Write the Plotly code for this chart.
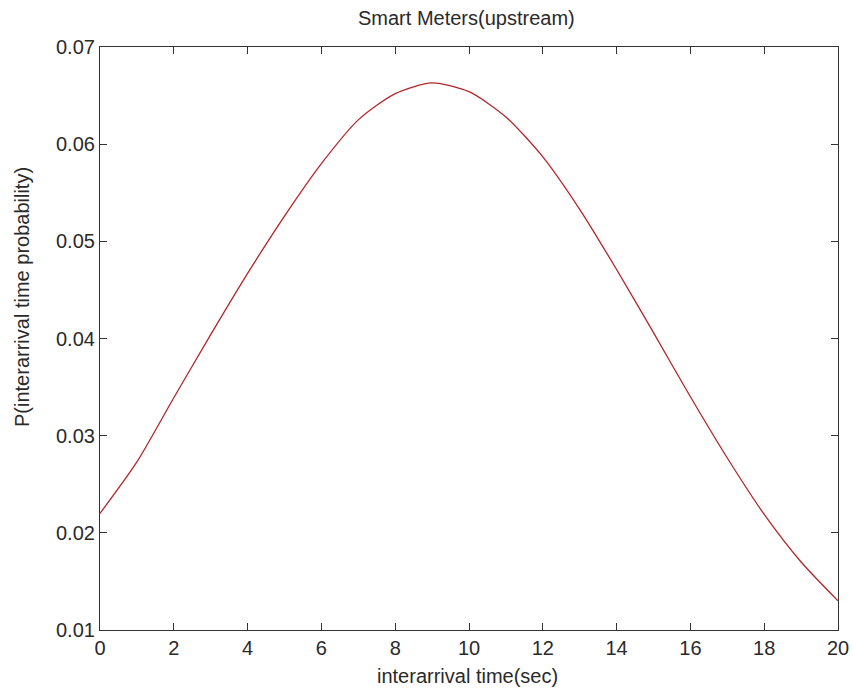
import plotly.graph_objects as go

x_time = [0, 1, 2, 3, 4, 5, 6, 7, 8, 9, 10, 11, 12, 13, 14, 15, 16, 17, 18, 19, 20]
p_values = [0.0220, 0.0273, 0.0339, 0.0404, 0.0467, 0.0526, 0.0580, 0.0625, 0.0652,
            0.0663, 0.0654, 0.0628, 0.0587, 0.0533, 0.0471, 0.0406, 0.0340, 0.0277,
            0.0219, 0.0170, 0.0130]
x_ticks = [0, 2, 4, 6, 8, 10, 12, 14, 16, 18, 20]
y_ticks = [0.01, 0.02, 0.03, 0.04, 0.05, 0.06, 0.07]

W, H = 853, 694
L, R, T, B = 100, 15, 47, 64

fig = go.Figure()
fig.add_trace(go.Scatter(x=x_time, y=p_values, mode="lines",
                         line=dict(color="#b3262a", width=1.3, shape="spline", smoothing=0.7),
                         showlegend=False, hoverinfo="skip"))

font = dict(family="Liberation Sans, Arial, sans-serif", size=20, color="#2a2a2a")
axis_common = dict(showgrid=False, zeroline=False, showline=True, linecolor="#333333",
                   linewidth=1.2, mirror="ticks", ticks="inside", ticklen=7,
                   tickwidth=1.2, tickcolor="#333333", tickfont=font)

fig.update_xaxes(range=[0, 20], tickvals=x_ticks, ticktext=[str(v) for v in x_ticks],
                 **axis_common)
fig.update_yaxes(range=[0.01, 0.07], tickvals=y_ticks, ticktext=[f"{v:.2f}" for v in y_ticks],
                 **axis_common)

pw = W - L - R
ph = H - T - B
fig.update_layout(
    width=W, height=H, autosize=False,
    margin=dict(l=L, r=R, t=T, b=B, autoexpand=False),
    paper_bgcolor="white", plot_bgcolor="white",
    font=font,
    annotations=[
        dict(text="Smart Meters(upstream)", xref="paper", yref="paper",
             x=(466 - L) / pw, y=(H - B - 18) / ph, xanchor="center", yanchor="middle",
             showarrow=False, font=font),
        dict(text="interarrival time(sec)", xref="paper", yref="paper",
             x=(467 - L) / pw, y=(H - B - 676) / ph, xanchor="center", yanchor="middle",
             showarrow=False, font=font),
        dict(text="P(interarrival time probability)", xref="paper", yref="paper",
             x=(22 - L) / pw, y=(H - B - 297) / ph, xanchor="center", yanchor="middle",
             textangle=-90, showarrow=False, font=font),
    ],
)

fig.write_html("out.html", config={"responsive": False, "displayModeBar": False},
               post_script="document.body.style.margin='0';document.body.style.overflow='hidden';")
